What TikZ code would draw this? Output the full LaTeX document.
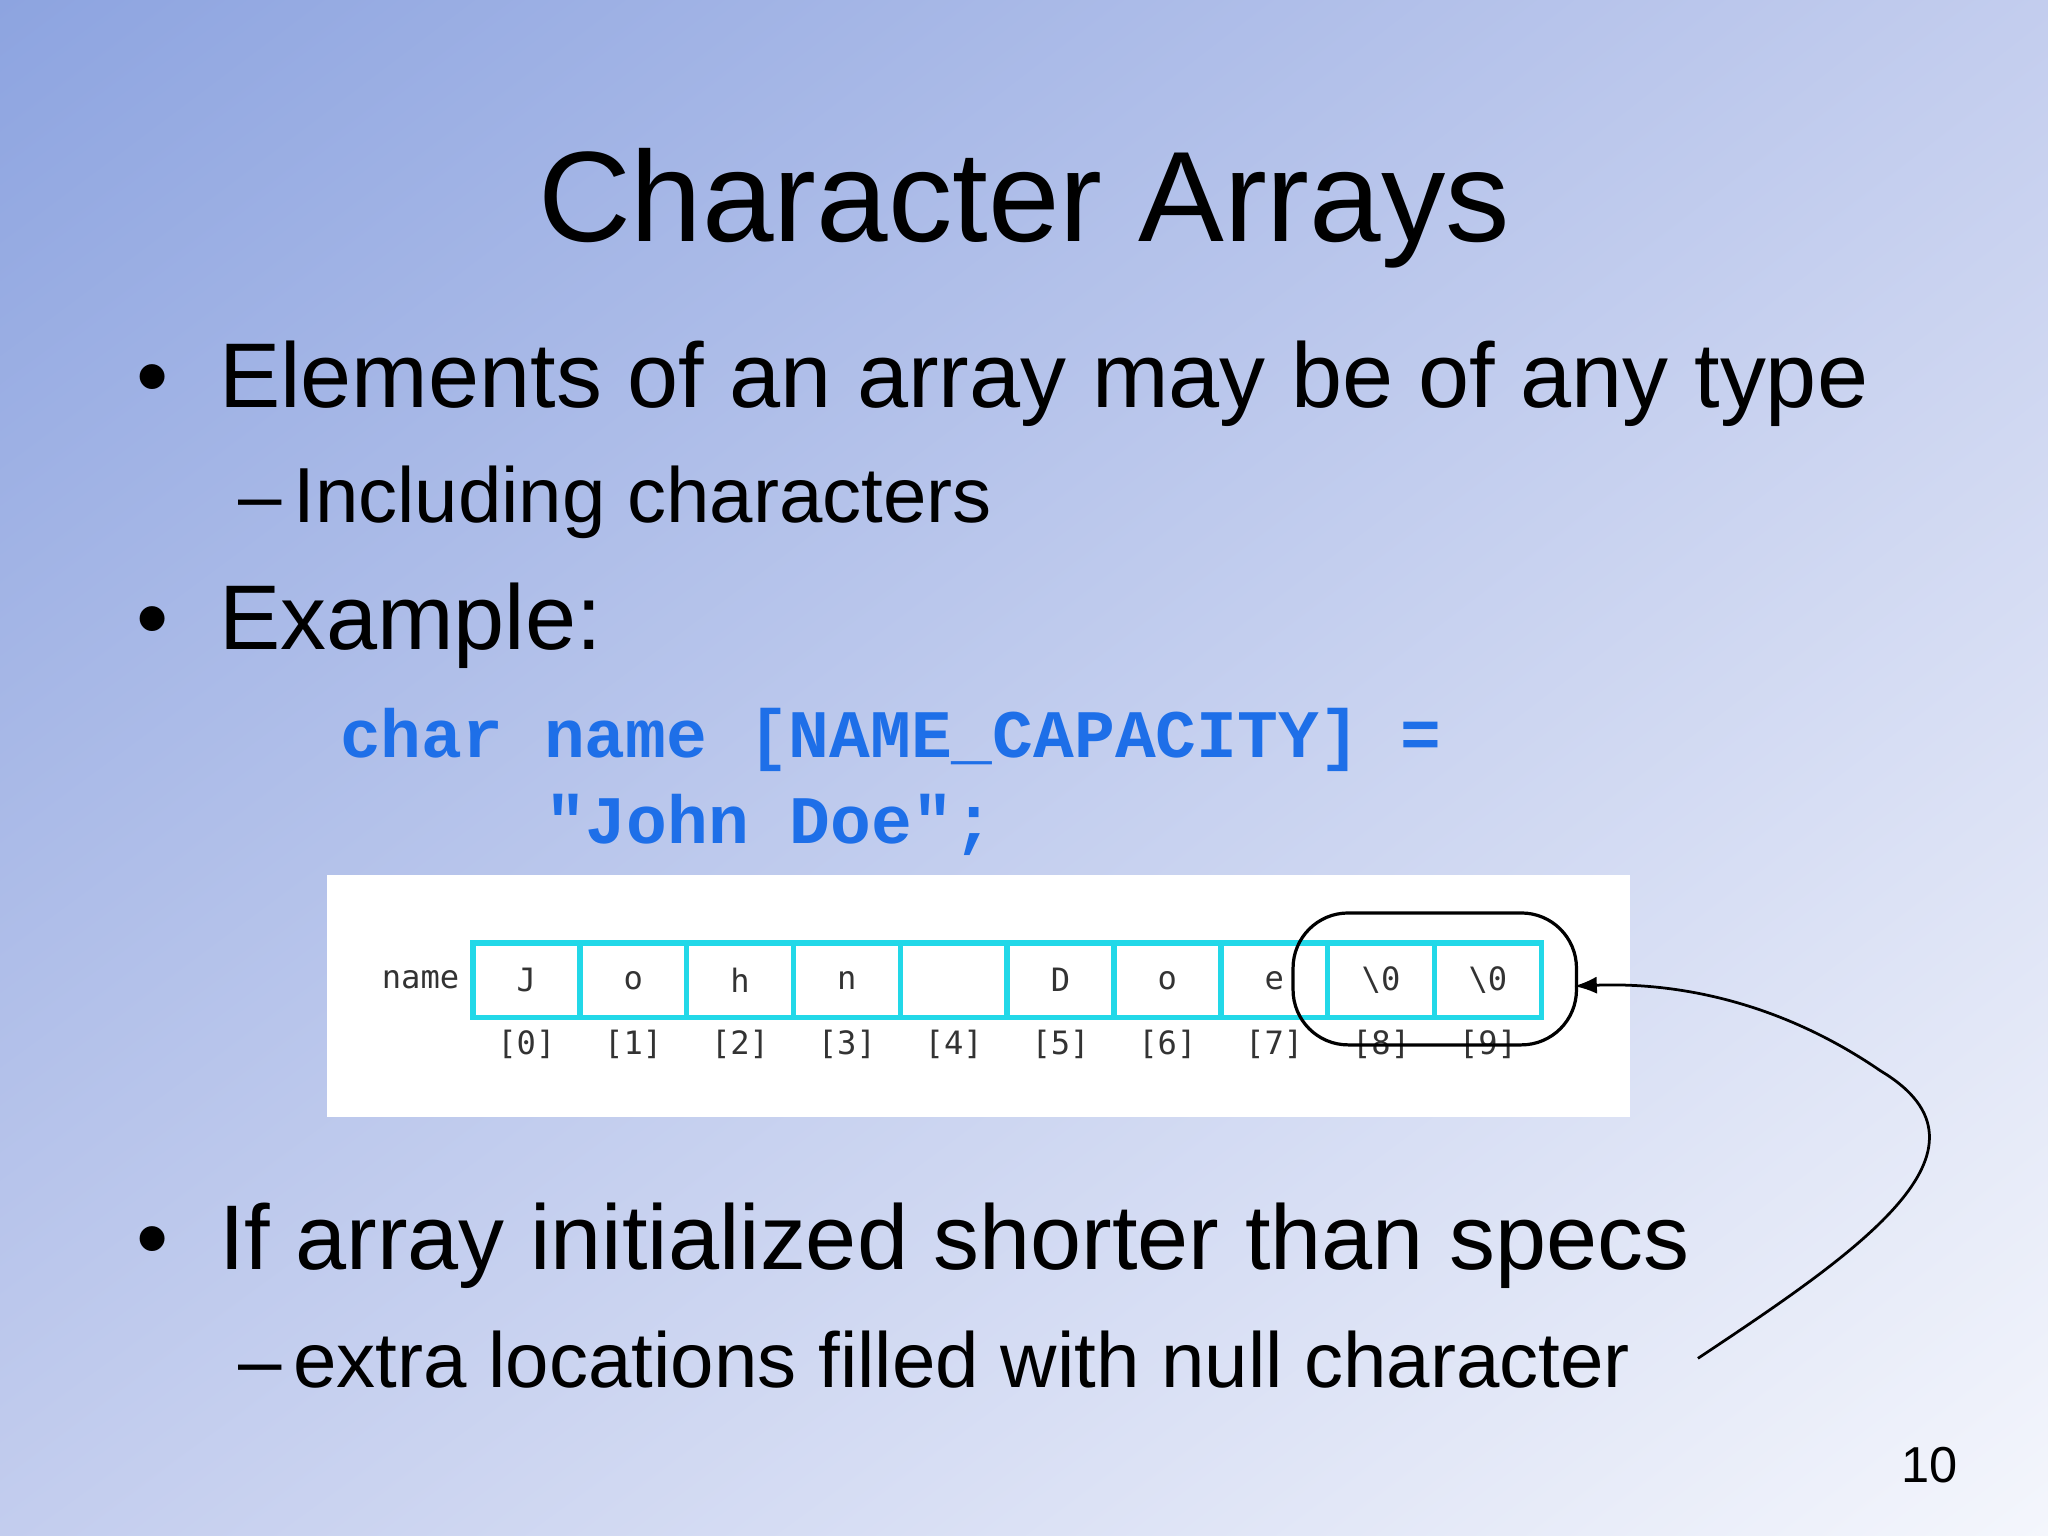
\documentclass[tikz,border=0pt]{standalone}
\usepackage{fontspec}
\usetikzlibrary{shadings,arrows.meta}
\setmainfont{Liberation Sans}
\newfontfamily\codefont{Liberation Mono}
\newfontfamily\smallmono{DejaVu Sans Mono}
\definecolor{bgA}{HTML}{8DA4E0}
\definecolor{bgB}{HTML}{C3CDEE}
\definecolor{bgC}{HTML}{F4F6FC}
\definecolor{codeblue}{HTML}{1E6FE8}
\definecolor{cellcyan}{HTML}{22D8E8}
\begin{document}
\begin{tikzpicture}[x=0.01cm,y=-0.01cm,
  bul/.style={anchor=base west,font=\fontsize{20}{24}\selectfont},
  sub/.style={anchor=base west,font=\fontsize{17}{20}\selectfont},
  code/.style={anchor=base west,text=codeblue,font=\codefont\bfseries\fontsize{14.8}{18}\selectfont},
  cell/.style={draw=cellcyan,line width=1.2pt,minimum width=81.8*0.01cm,minimum height=57*0.01cm,inner sep=0pt,font=\smallmono\fontsize{7}{8}\selectfont,text=black!80},
  idx/.style={font=\smallmono\fontsize{7}{8}\selectfont,text=black!80}]
\useasboundingbox (0,0) rectangle (1568,1176);
\shade[upper left=bgA,upper right=bgB,lower left=bgB,lower right=bgC] (0,0) rectangle (1568,1176);
\node[anchor=base,font=\fontsize{28}{32}\selectfont] (t) at (784,185) {Character Arrays};
\node[bul] (b1) at (92,312) {•\hspace{0.55em}Elements of an array may be of any type};
\node[sub] (s1) at (170,400) {–\hspace{0.15em}Including characters};
\node[bul] (b2) at (92,497) {•\hspace{0.55em}Example:};
\node[code] (c1) at (248,580) {char name [NAME\_CAPACITY] =};
\node[code] (c2) at (405,646) {"John Doe";};
\fill[white] (250,670) rectangle (1248,855);
\node[font=\smallmono\fontsize{7}{8}\selectfont,text=black!80] (nm) at (322,750) {name};
\foreach \c [count=\i from 0] in {J,o,h,n,{},D,o,e,\textbackslash 0,\textbackslash 0}{
  \node[cell] (c\i) at ({403+81.8*\i},750.5) {\c};
  \node[idx] (i\i) at ({403+81.8*\i},800) {[\i]};
}
\draw[rounded corners=12pt,black,line width=0.7pt] (990,699) rectangle (1207,800);
\node[bul] (b3) at (92,972) {•\hspace{0.55em}If array initialized shorter than specs};
\node[sub] (s3) at (170,1062) {–\hspace{0.15em}extra locations filled with null character};
\coordinate (st) at (1300,1040);
\coordinate (en) at (1205,755);
\draw[-{Latex[length=5pt]},line width=0.6pt] (st) .. controls (1420,960) and (1540,880) .. (1440,820) .. controls (1360,765) and (1280,752) .. (en);
\node[font=\fontsize{11}{13}\selectfont] (pg) at (1477,1122) {10};
\end{tikzpicture}
\end{document}
